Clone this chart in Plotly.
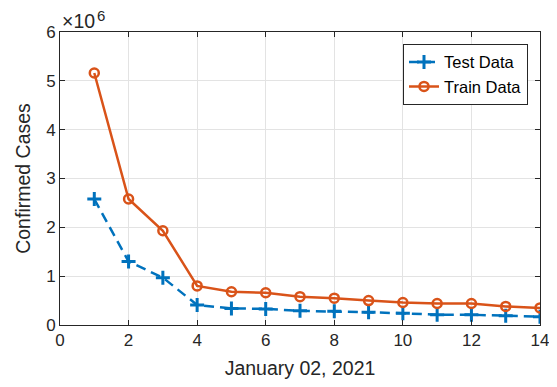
import plotly.graph_objects as go

days = list(range(1, 15))
test_data = [2.58e6, 1.30e6, 0.97e6, 0.41e6, 0.34e6, 0.33e6, 0.29e6, 0.28e6, 0.26e6, 0.24e6, 0.21e6, 0.21e6, 0.19e6, 0.17e6]
train_data = [5.16e6, 2.58e6, 1.93e6, 0.80e6, 0.68e6, 0.66e6, 0.58e6, 0.55e6, 0.50e6, 0.46e6, 0.44e6, 0.44e6, 0.38e6, 0.35e6]
y_ticks = [0, 1e6, 2e6, 3e6, 4e6, 5e6, 6e6]
y_tick_labels = ["0", "1", "2", "3", "4", "5", "6"]
x_ticks = [0, 2, 4, 6, 8, 10, 12, 14]

blue = "#0072BD"
orange = "#D95319"
txt = "#262626"
font = "Liberation Sans, Arial, sans-serif"

fig = go.Figure()
fig.add_trace(go.Scatter(
    x=days, y=test_data, name="Test Data", mode="lines+markers",
    line=dict(color=blue, width=2.5, dash="10px,6px"),
    marker=dict(symbol="cross-thin", size=10, line=dict(color=blue, width=3), color=blue),
))
fig.add_trace(go.Scatter(
    x=days, y=train_data, name="Train Data", mode="lines+markers",
    line=dict(color=orange, width=2.5),
    marker=dict(symbol="circle-open", size=9, line=dict(color=orange, width=2.5), color=orange),
))

axis_common = dict(
    showline=True, linecolor=txt, linewidth=1, mirror="ticks",
    ticks="inside", ticklen=5, tickcolor=txt, tickwidth=1,
    showgrid=True, gridcolor="#E3E3E3", gridwidth=1, zeroline=False,
    tickfont=dict(family=font, size=17, color=txt),
)

fig.update_xaxes(range=[0, 14], tickvals=x_ticks,
                 title=dict(text="January 02, 2021", font=dict(family=font, size=19.5, color=txt), standoff=11),
                 **axis_common)
fig.update_yaxes(range=[0, 6e6], tickvals=y_ticks, ticktext=y_tick_labels,
                 title=dict(text="Confirmed Cases", font=dict(family=font, size=19.5, color=txt), standoff=10),
                 **axis_common)

fig.add_annotation(xref="paper", yref="paper", x=0, y=1, xanchor="left", yanchor="bottom",
                   text="×10", showarrow=False, yshift=-2, xshift=0,
                   font=dict(family=font, size=19.5, color=txt))
fig.add_annotation(xref="paper", yref="paper", x=0, y=1, xanchor="left", yanchor="bottom",
                   text="6", showarrow=False, yshift=6, xshift=35,
                   font=dict(family=font, size=15, color=txt))

fig.update_layout(
    width=549, height=379,
    margin=dict(l=52, r=17, t=24, b=62, autoexpand=False),
    paper_bgcolor="white", plot_bgcolor="white",
    font=dict(family=font, color=txt),
    legend=dict(x=0.975, y=0.96, xanchor="right", yanchor="top",
                bgcolor="white", bordercolor=txt, borderwidth=1,
                font=dict(family=font, size=16.5, color="black"),
                tracegroupgap=0, itemwidth=30),
    showlegend=True,
)

fig.write_html("out.html")
